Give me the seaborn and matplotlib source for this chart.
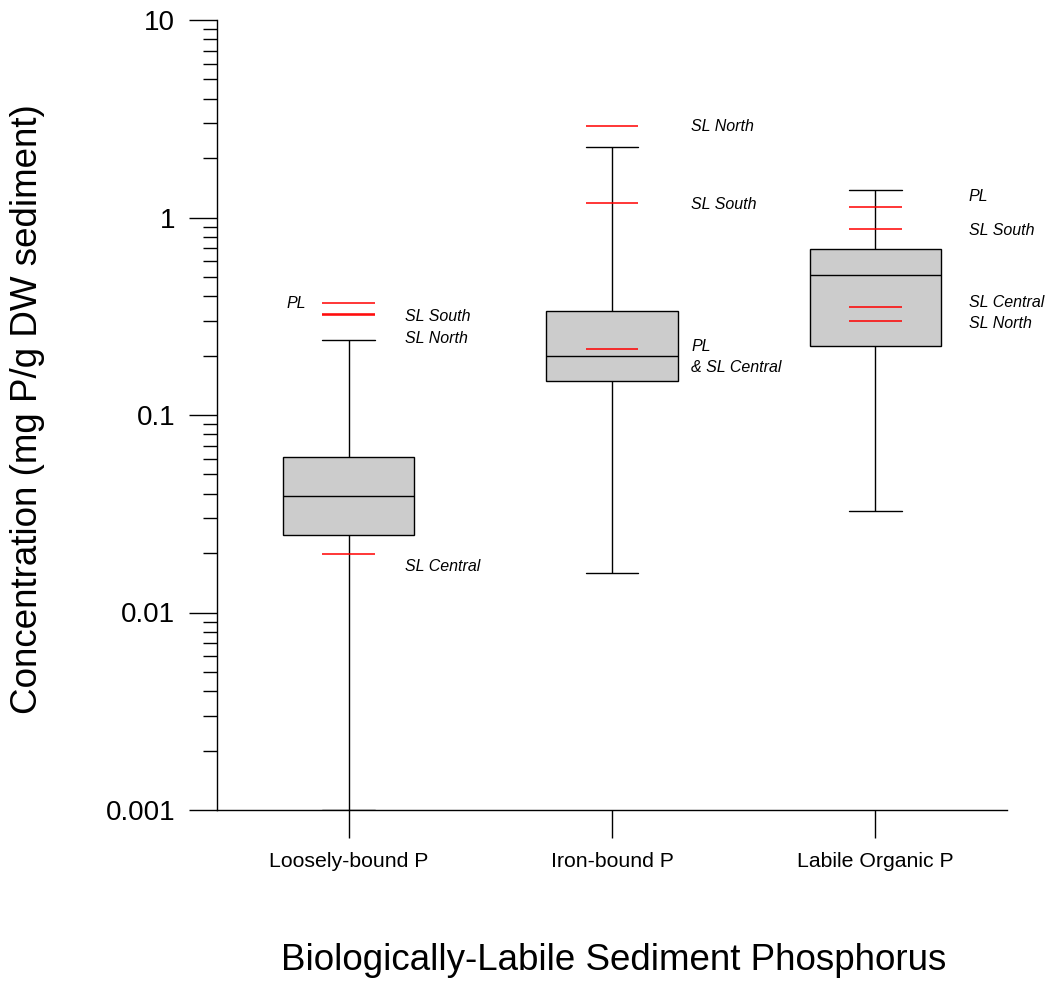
import numpy as np
import pandas as pd
import seaborn as sns
import matplotlib.pyplot as plt
from matplotlib.ticker import LogLocator, FixedFormatter, FixedLocator, NullFormatter

# box summary: min, q1, median, q3, max
categories = ['Loosely-bound P', 'Iron-bound P', 'Labile Organic P']
loosely = [0.001, 0.0248, 0.0388, 0.0615, 0.24]
iron = [0.0158, 0.149, 0.200, 0.337, 2.28]
labile = [0.0327, 0.224, 0.510, 0.690, 1.37]

# red reference values per lake site
ref_cat = [0, 0, 0, 0, 1, 1, 1, 2, 2, 2, 2]
ref_val = [0.368, 0.325, 0.320, 0.0198, 2.9, 1.18, 0.215, 1.13, 0.871, 0.352, 0.30]

# annotation labels
lab_cat = [0, 0, 0, 0, 1, 1, 1, 1, 2, 2, 2, 2]
lab_text = ['PL', 'SL South', 'SL North', 'SL Central',
            'SL North', 'SL South', 'PL', '& SL Central',
            'PL', 'SL South', 'SL Central', 'SL North']
lab_y = [0.365, 0.317, 0.243, 0.017,
         2.9, 1.17, 0.221, 0.173,
         1.27, 0.855, 0.373, 0.289]
lab_dx = [-0.163, 0.213, 0.213, 0.213,
          0.30, 0.30, 0.30, 0.30,
          0.354, 0.354, 0.354, 0.354]

df = pd.DataFrame({
    'group': np.repeat(categories, 5),
    'value': loosely + iron + labile,
})

sns.set_style('ticks')
plt.rcParams['font.family'] = ['Liberation Sans', 'DejaVu Sans']
for k in ['text.color', 'axes.labelcolor', 'xtick.color', 'ytick.color', 'axes.edgecolor']:
    plt.rcParams[k] = 'black'

fig = plt.figure(figsize=(10.49, 9.85), dpi=100)
ax = fig.add_axes([217 / 1049, 1 - 810 / 985, 790 / 1049, 790 / 985])

sns.boxplot(data=df, x='group', y='value', order=categories, ax=ax,
            whis=(0, 100), width=0.5, color='#cccccc', linecolor='black',
            linewidth=1, fill=True, saturation=1, log_scale=True,
            capwidths=0.2, showfliers=False)

ax.hlines(ref_val, np.array(ref_cat) - 0.1, np.array(ref_cat) + 0.1,
          colors='red', linewidth=1.1, zorder=5)

for c, t, y, dx in zip(lab_cat, lab_text, lab_y, lab_dx):
    ax.text(c + dx, y, t, fontsize=11.5, style='italic', color='black',
            ha='right' if dx < 0 else 'left', va='center')

ax.set_ylim(0.001, 10)
ax.set_xlim(-0.5, 2.5)
ax.yaxis.set_major_locator(FixedLocator([0.001, 0.01, 0.1, 1, 10]))
ax.yaxis.set_major_formatter(FixedFormatter(['0.001', '0.01', '0.1', '1', '10']))
ax.yaxis.set_minor_locator(LogLocator(base=10, subs=np.arange(2, 10)))
ax.yaxis.set_minor_formatter(NullFormatter())

sns.despine(ax=ax)
for s in ['left', 'bottom']:
    ax.spines[s].set_linewidth(1)
ax.tick_params(axis='y', which='major', direction='out', length=20, width=1,
               labelsize=20, pad=10)
ax.tick_params(axis='y', which='minor', direction='out', length=10, width=1)
ax.tick_params(axis='x', direction='out', length=20, width=1,
               labelsize=15.3, pad=10)

ax.set_xlabel('Biologically-Labile Sediment Phosphorus', fontsize=26.5)
ax.set_ylabel('Concentration (mg P/g DW sediment)', fontsize=26.5)
ax.xaxis.set_label_coords(0.5025, -0.168)
ax.yaxis.set_label_coords(-0.218, 0.5076)

fig.savefig('out.png', dpi=100)
